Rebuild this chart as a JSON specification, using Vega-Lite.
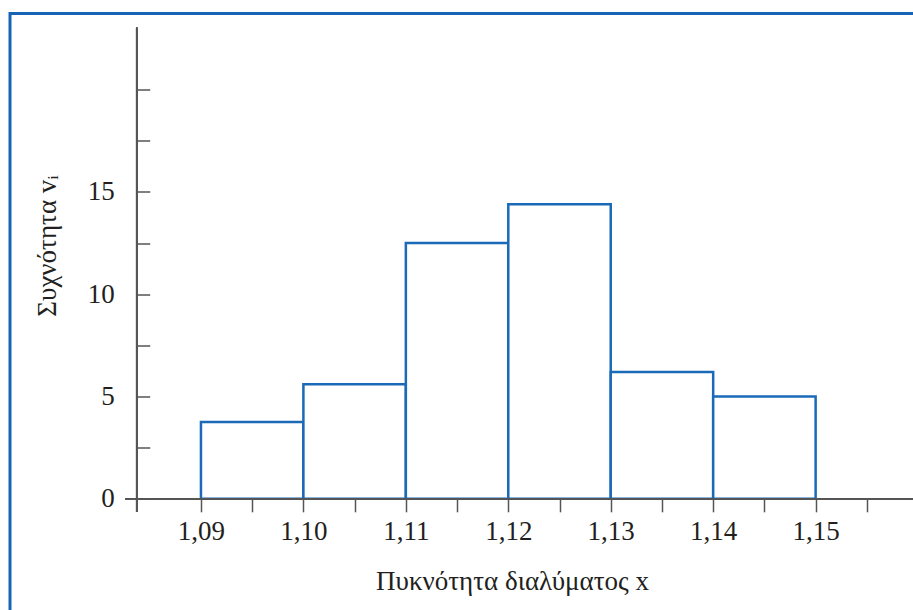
{
  "$schema": "https://vega.github.io/schema/vega-lite/v6.json",
  "autosize": "none",
  "width": 922,
  "height": 620,
  "padding": {"left": 10, "top": 13.5, "right": 0, "bottom": 0},
  "background": "white",
  "config": {
    "view": {"stroke": "#1664b4", "strokeWidth": 3},
    "font": "Liberation Serif",
    "axis": {"grid": false, "domain": false, "labelFont": "Liberation Serif", "titleFont": "Liberation Serif", "labelColor": "#231f20", "titleColor": "#231f20", "titleFontWeight": "normal", "tickColor": "#555555", "tickWidth": 1.5}
  },
  "data": {"values": [
    {"x0": 1.09, "x1": 1.10, "f": 3.75},
    {"x0": 1.10, "x1": 1.11, "f": 5.6},
    {"x0": 1.11, "x1": 1.12, "f": 12.5},
    {"x0": 1.12, "x1": 1.13, "f": 14.4},
    {"x0": 1.13, "x1": 1.14, "f": 6.2},
    {"x0": 1.14, "x1": 1.15, "f": 5.0}
  ]},
  "layer": [
    {
      "mark": {"type": "rect", "fill": "white", "stroke": "#1a6ab8", "strokeWidth": 2.5},
      "encoding": {
        "x": {"field": "x0", "type": "quantitative",
          "scale": {"domain": [1.07136, 1.16136], "nice": false, "zero": false},
          "axis": {"orient": "bottom", "offset": -134.7, "values": [1.09, 1.095, 1.10, 1.105, 1.11, 1.115, 1.12, 1.125, 1.13, 1.135, 1.14, 1.145, 1.15, 1.155],
            "labelExpr": "round(datum.value*1000) % 10 == 0 ? replace(format(datum.value, '.2f'), '.', ',') : ''",
            "tickSize": 13, "labelPadding": 7, "labelFontSize": 27, "labelFlush": false,
            "title": "Πυκνότητα διαλύματος x", "titleFontSize": 27, "titleX": 502, "titleY": 91, "titleBaseline": "alphabetic", "titleAlign": "center", "titleAnchor": null}},
        "x2": {"field": "x1"},
        "y": {"field": "f", "type": "quantitative",
          "scale": {"domain": [-6.584, 23.72], "nice": false, "zero": false},
          "axis": {"orient": "left", "offset": -126.7, "values": [0, 2.5, 5, 7.5, 10, 12.5, 15, 17.5, 20],
            "labelExpr": "datum.value % 5 == 0 && datum.value < 20 ? format(datum.value, 'd') : ''",
            "tickSize": -13, "labelPadding": 35.5, "labelFontSize": 27, "labelFlush": false,
            "title": "Συχνότητα vᵢ", "titleFontSize": 27, "titleX": -81, "titleY": 232, "titleAngle": -90, "titleBaseline": "alphabetic", "titleAlign": "center", "titleAnchor": null}},
        "y2": {"datum": 0}
      }
    },
    {
      "mark": {"type": "rule", "color": "#555555", "strokeWidth": 1.5},
      "encoding": {
        "x": {"datum": 1.0826, "type": "quantitative"},
        "x2": {"datum": 1.16136},
        "y": {"datum": 0, "type": "quantitative"}
      }
    },
    {
      "mark": {"type": "rule", "color": "#555555", "strokeWidth": 1.5},
      "encoding": {
        "x": {"datum": 1.08373, "type": "quantitative"},
        "y": {"datum": -0.65, "type": "quantitative"},
        "y2": {"datum": 23.04}
      }
    }
  ]
}
